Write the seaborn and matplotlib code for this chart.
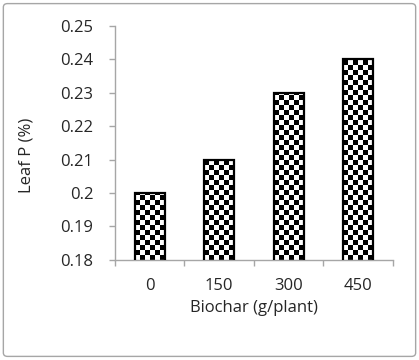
import numpy as np
import pandas as pd
import matplotlib
matplotlib.use("Agg")
import matplotlib.pyplot as plt
from matplotlib.patches import FancyBboxPatch
import seaborn as sns

# datos
biochar = ["0", "150", "300", "450"]
leaf_p = [0.20, 0.21, 0.23, 0.24]
y_ticks = [0.18, 0.19, 0.2, 0.21, 0.22, 0.23, 0.24, 0.25]
y_tick_labels = ["0.18", "0.19", "0.2", "0.21", "0.22", "0.23", "0.24", "0.25"]

df = pd.DataFrame({"biochar": biochar, "leaf_p": leaf_p})

sns.set_style("white")
plt.rcParams["font.family"] = ["Open Sans", "DejaVu Sans"]

fig = plt.figure(figsize=(4.19, 3.6), dpi=100)
ax = fig.add_axes([0.274, 0.278, 0.664, 0.650])

sns.barplot(data=df, x="biochar", y="leaf_p", color="white", width=0.43,
            edgecolor="black", linewidth=1.6, ax=ax)

ax.set_ylim(0.18, 0.25)
ax.set_xlim(-0.5, 3.5)

# textura de tablero de ajedrez recortada a cada barra
nx, ny = 56, 47
board = (np.add.outer(np.arange(ny), np.arange(nx)) % 2).astype(float)
for bar in ax.patches:
    im = ax.imshow(board, cmap="gray_r", extent=(-0.5, 3.5, 0.18, 0.25),
                   aspect="auto", interpolation="nearest", zorder=bar.get_zorder() - 0.1)
    im.set_clip_path(bar)
    bar.set_facecolor("none")
    bar.set_zorder(3)

ax.set_yticks(y_ticks)
ax.set_yticklabels(y_tick_labels)
ax.set_xticks([-0.5, 0.5, 1.5, 2.5, 3.5], minor=True)
ax.tick_params(axis="x", which="major", length=0, pad=13, labelsize=12)
ax.tick_params(axis="x", which="minor", length=4.5, color="#a6a6a6", width=1, bottom=True)
ax.tick_params(axis="y", length=4.5, color="#a6a6a6", width=1, left=True, pad=11, labelsize=12)

sns.despine(ax=ax)
for s in ["left", "bottom"]:
    ax.spines[s].set_color("#a6a6a6")
    ax.spines[s].set_linewidth(1)

ax.set_xlabel("Biochar (g/plant)", fontsize=12)
ax.set_ylabel("Leaf P (%)", fontsize=12)
ax.xaxis.set_label_coords(0.5, -0.17)
ax.yaxis.set_label_coords(-0.29, 0.445)

# marco exterior
frame = FancyBboxPatch((0.008, 0.01), 0.984, 0.98, boxstyle="round,pad=0,rounding_size=0.01",
                       transform=fig.transFigure, fill=False, edgecolor="#a6a6a6", linewidth=1)
fig.patches.append(frame)

fig.savefig("out.png", dpi=100)
